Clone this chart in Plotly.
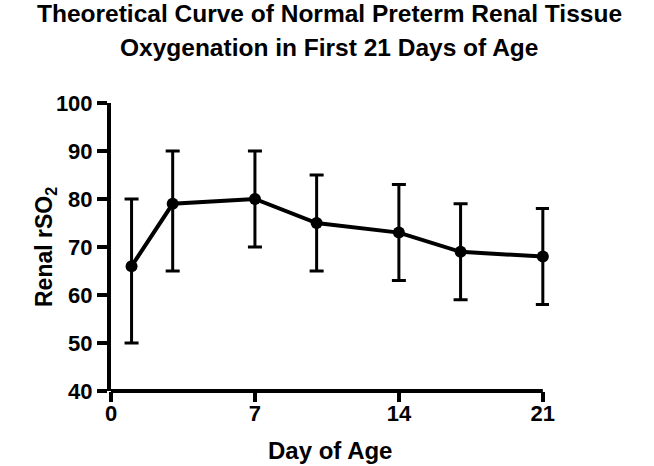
import plotly.graph_objects as go

days = [1, 3, 7, 10, 14, 17, 21]
rso2 = [66, 79, 80, 75, 73, 69, 68]
err_plus = [14, 11, 10, 10, 10, 10, 10]
err_minus = [16, 14, 10, 10, 10, 10, 10]
x_ticks = [0, 7, 14, 21]
y_ticks = [40, 50, 60, 70, 80, 90, 100]
title_lines = ["Theoretical Curve of Normal Preterm Renal Tissue",
               "Oxygenation in First 21 Days of Age"]
x_title = "Day of Age"
y_title = "Renal rSO<sub>2</sub>"

FONT = "Liberation Sans"
X_MAX = 21
X_PAD = 0.3  # extra room so the last error-bar cap is not clipped

fig = go.Figure(go.Scatter(
    x=days, y=rso2, mode="lines+markers",
    line=dict(color="black", width=4),
    marker=dict(color="black", size=12),
    error_y=dict(type="data", symmetric=False, array=err_plus, arrayminus=err_minus,
                 color="black", thickness=3, width=7),
    cliponaxis=False,
    showlegend=False,
))

fig.update_layout(
    width=654, height=466,
    margin=dict(l=111, r=105, t=103, b=75),
    paper_bgcolor="white", plot_bgcolor="white",
    font=dict(family=FONT, color="black"),
)
# x axis line ending at day 21
fig.add_shape(type="line", xref="x", yref="paper", x0=0, x1=X_MAX, y0=0, y1=0,
              line=dict(color="black", width=4))

for txt, shift in zip(title_lines, [90, 56]):
    fig.add_annotation(text=f"<b>{txt}</b>", xref="paper", yref="paper", x=0.5, y=1,
                       xanchor="center", yanchor="middle", xshift=-1, yshift=shift,
                       showarrow=False, font=dict(family=FONT, size=24.5, color="black"))
fig.add_annotation(text=f"<b>{x_title}</b>", xref="paper", yref="paper", x=0.5, y=0,
                   xanchor="center", yanchor="middle", xshift=0, yshift=-59, showarrow=False,
                   font=dict(family=FONT, size=24, color="black"))
fig.add_annotation(text=f"<b>{y_title}</b>", xref="paper", yref="paper", x=0, y=0.5,
                   xanchor="center", yanchor="middle", xshift=-66, textangle=-90, showarrow=False,
                   font=dict(family=FONT, size=23, color="black"))

axis_common = dict(
    linecolor="black", linewidth=4,
    ticks="outside", ticklen=10, tickwidth=4, tickcolor="black",
    showgrid=False, zeroline=False,
    tickfont=dict(family=FONT, size=22, color="black"),
)
fig.update_xaxes(range=[0, X_MAX + X_PAD], tickvals=x_ticks, ticklabelstandoff=-7,
                 showline=False,
                 ticktext=[f"<b>{v}</b>" for v in x_ticks], **axis_common)
fig.update_yaxes(range=[40, 100], tickvals=y_ticks, ticklabelstandoff=0,
                 showline=True,
                 ticktext=[f"<b>{v}</b>" for v in y_ticks], **axis_common)

fig.write_html("out.html", config={"displayModeBar": False},
               post_script="document.body.style.margin='0';")
